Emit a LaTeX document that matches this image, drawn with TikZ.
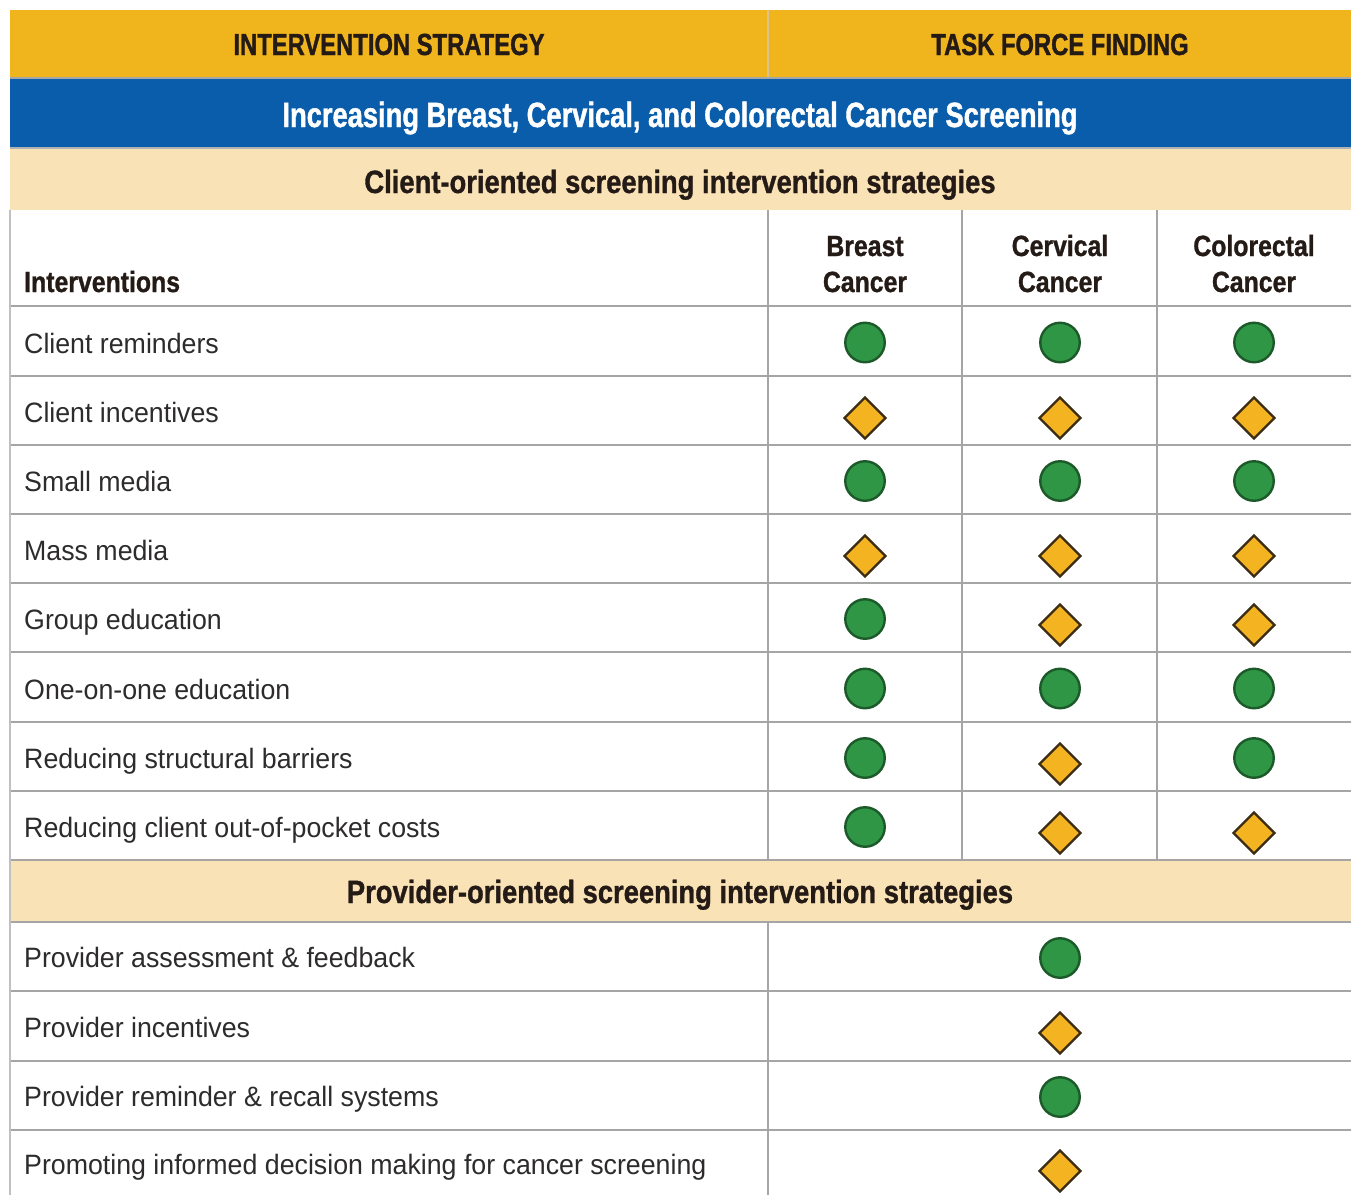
\documentclass[tikz,border=0pt]{standalone}
\usepackage{fontspec}
\setmainfont{Liberation Sans}[FakeStretch=0.955]
\newfontfamily\condA{Liberation Sans}[FakeStretch=0.78, BoldFeatures={FakeBold=1.2}]
\newfontfamily\condB{Liberation Sans}[FakeStretch=0.85, BoldFeatures={FakeBold=1.0}]
\usetikzlibrary{shapes.geometric}
\definecolor{hgold}{HTML}{F0B41C}
\definecolor{hblue}{HTML}{0A5DAB}
\definecolor{hcream}{HTML}{F9E2B6}
\definecolor{gridgray}{HTML}{A5A5A5}
\definecolor{hdtext}{HTML}{241A16}
\definecolor{bodytext}{HTML}{2D2B2B}
\definecolor{mgreen}{HTML}{2F9646}
\definecolor{mgreenline}{HTML}{1C5A2A}
\definecolor{mgold}{HTML}{F4B321}
\definecolor{mgoldline}{HTML}{3B2D14}
\definecolor{golddiv}{HTML}{DCC28C}
\tikzset{
  body/.style={anchor=base west, inner sep=0pt, text=bodytext, font=\fontsize{28}{32}\selectfont},
  goldhd/.style={anchor=base, inner sep=0pt, text=hdtext, font=\condA\bfseries\fontsize{30.5}{34}\selectfont},
  bluehd/.style={anchor=base, inner sep=0pt, text=white, font=\condA\bfseries\fontsize{35}{38}\selectfont},
  creamhd/.style={anchor=base, inner sep=0pt, text=hdtext, font=\condB\bfseries\fontsize{32.2}{36}\selectfont},
  colhd/.style={anchor=base, inner sep=0pt, text=hdtext, font=\condB\bfseries\fontsize{29.2}{33}\selectfont},
  gridline/.style={draw=gridgray, line width=2.8pt},
  good/.style={circle, draw=mgreenline, fill=mgreen, line width=2.4pt, minimum size=39.5pt, inner sep=0pt},
  fair/.style={diamond, draw=mgoldline, fill=mgold, line width=2.4pt, minimum width=42pt, minimum height=42pt, inner sep=0pt},
}
\begin{document}
\begin{tikzpicture}[x=1pt,y=-1pt]
\useasboundingbox (0,0) rectangle (1351,1195);
\fill[white] (0,0) rectangle (1351,1195);
% bands
\fill[hgold] (10,10) rectangle (1351,78);
\fill[hblue] (10,78) rectangle (1351,148);
\fill[hcream] (10,148) rectangle (1351,210);
\fill[hcream] (10,860) rectangle (1351,922);
\draw[golddiv, line width=1.8pt] (768,10) -- (768,78);
\draw[gray!70, line width=1.2pt] (10,78) -- (1351,78);
\draw[gray!60, line width=1.2pt] (10,148) -- (1351,148);
% horizontal grid
\foreach \yy in {306,376,445,514,583,652,722,791,860,922,991,1061,1130}
  \draw[gridline] (10,\yy) -- (1351,\yy);
% vertical grid
\draw[draw=gridgray!70, line width=2pt] (10,210) -- (10,1195);
\draw[gridline] (768,210) -- (768,860);
\draw[gridline] (768,922) -- (768,1195);
\draw[gridline] (962,210) -- (962,860);
\draw[gridline] (1157,210) -- (1157,860);
% header texts
\node[goldhd] (hs) at (389,55) {INTERVENTION STRATEGY};
\node[goldhd] (hf) at (1060,55) {TASK FORCE FINDING};
\node[bluehd] (hb) at (680,127) {Increasing Breast, Cervical, and Colorectal Cancer Screening};
\node[creamhd] (hc) at (680,193) {Client-oriented screening intervention strategies};
\node[creamhd] (hp) at (680,903) {Provider-oriented screening intervention strategies};
\node[colhd, anchor=base west] (hi) at (24,292) {Interventions};
\node[colhd] (hbr1) at (865,256) {Breast};
\node[colhd] (hbr2) at (865,292) {Cancer};
\node[colhd] (hcv1) at (1060,256) {Cervical};
\node[colhd] (hcv2) at (1060,292) {Cancer};
\node[colhd] (hco1) at (1254,256) {Colorectal};
\node[colhd] (hco2) at (1254,292) {Cancer};
% row labels
\node[body] (r1) at (24,353) {Client reminders};
\node[body] (r2) at (24,422) {Client incentives};
\node[body] (r3) at (24,491) {Small media};
\node[body] (r4) at (24,560) {Mass media};
\node[body] (r5) at (24,629) {Group education};
\node[body] (r6) at (24,699) {One-on-one education};
\node[body] (r7) at (24,768) {Reducing structural barriers};
\node[body] (r8) at (24,837) {Reducing client out-of-pocket costs};
\node[body] (p1) at (24,967) {Provider assessment \& feedback};
\node[body] (p2) at (24,1037) {Provider incentives};
\node[body] (p3) at (24,1106) {Provider reminder \& recall systems};
\node[body] (p4) at (24,1174) {Promoting informed decision making for cancer screening};
% markers
\node[good] (m11) at (865,342.5) {};
\node[good] (m12) at (1060,342.5) {};
\node[good] (m13) at (1254,342.5) {};
\node[fair] (m21) at (865,418) {};
\node[fair] (m22) at (1060,418) {};
\node[fair] (m23) at (1254,418) {};
\node[good] (m31) at (865,481) {};
\node[good] (m32) at (1060,481) {};
\node[good] (m33) at (1254,481) {};
\node[fair] (m41) at (865,556) {};
\node[fair] (m42) at (1060,556) {};
\node[fair] (m43) at (1254,556) {};
\node[good] (m51) at (865,619) {};
\node[fair] (m52) at (1060,625) {};
\node[fair] (m53) at (1254,625) {};
\node[good] (m61) at (865,688.5) {};
\node[good] (m62) at (1060,688.5) {};
\node[good] (m63) at (1254,688.5) {};
\node[good] (m71) at (865,758) {};
\node[fair] (m72) at (1060,764) {};
\node[good] (m73) at (1254,758) {};
\node[good] (m81) at (865,827) {};
\node[fair] (m82) at (1060,833) {};
\node[fair] (m83) at (1254,833) {};
\node[good] (q1) at (1060,958) {};
\node[fair] (q2) at (1060,1033) {};
\node[good] (q3) at (1060,1097) {};
\node[fair] (q4) at (1060,1171) {};
\end{tikzpicture}
\end{document}
